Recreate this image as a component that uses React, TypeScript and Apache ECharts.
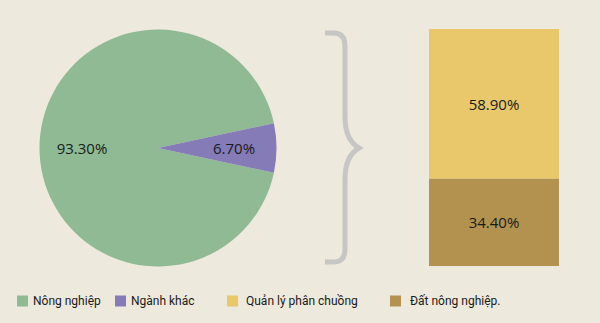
import React, { useEffect, useRef } from "react";
import * as echarts from "echarts";

// Share of emissions: agriculture vs. other sectors
const pieNames = ["Nông nghiệp", "Ngành khác"];
const pieValues = [93.3, 6.7];
const pieColors = ["#8fba93", "#847bb7"];

// Breakdown of the agriculture share
const barNames = ["Đất nông nghiệp.", "Quản lý phân chuồng"];
const barValues = [34.4, 58.9];
const barColors = ["#b3924f", "#e8c86a"];

const legendItems = ["Nông nghiệp", "Ngành khác", "Quản lý phân chuồng", "Đất nông nghiệp."];
const legendLeft = [17, 115, 227, 390];
const legendTextPad = [0, 0, 3, 4];

const fmt = (v: number) => v.toFixed(2) + "%";

// Curly brace between the pie and the stacked column
const braceD =
  "M325,33 L334,33 Q345,33 345,46 L345,117 Q345,140 359,148 Q345,156 345,179 L345,249 Q345,262 334,262 L325,262";

export default function App() {
  const ref = useRef<HTMLDivElement>(null);

  useEffect(() => {
    if (!ref.current) return;
    echarts.graphic.registerShape("brace", echarts.graphic.extendPath(braceD, {}));
    const chart = echarts.init(ref.current, null, { renderer: "svg" });

    const labelFont = {
      fontFamily: "Open Sans",
      fontSize: 15,
      color: "#1a1a1a",
    };

    const pieData = pieNames.map((n, i) => ({
      name: n,
      value: pieValues[i],
      itemStyle: { color: pieColors[i] },
    }));

    const total = barValues.reduce((a, b) => a + b, 0);

    chart.setOption({
      animation: false,
      backgroundColor: "#ede9dd",
      legend: legendItems.map((name, i) => ({
        data: [name],
        left: legendLeft[i],
        top: 295,
        padding: 0,
        icon: "rect",
        itemWidth: 11,
        itemHeight: 11,
        selectedMode: false,
        textStyle: {
          fontFamily: "Roboto",
          fontSize: 12,
          color: "#1a1a1a",
          padding: [0, 0, 0, legendTextPad[i]],
        },
      })),
      grid: { left: 429, top: 29, width: 130, height: 237 },
      xAxis: { type: "category", data: [""], show: false },
      yAxis: { type: "value", min: 0, max: total, show: false },
      series: [
        {
          type: "pie",
          center: [158, 148],
          radius: [0, 118.5],
          startAngle: -pieValues[1] * 1.8,
          clockwise: true,
          silent: true,
          label: { show: false },
          labelLine: { show: false },
          data: pieData,
        },
        {
          // wider transparent disc that only carries the slice labels
          type: "pie",
          center: [158, 148],
          radius: [0, 146],
          startAngle: -pieValues[1] * 1.8,
          clockwise: true,
          silent: true,
          itemStyle: { color: "rgba(0,0,0,0)" },
          label: {
            show: true,
            position: "inside",
            ...labelFont,
            formatter: (p: any) => fmt(p.value),
          },
          labelLine: { show: false },
          data: pieNames.map((n, i) => ({ name: n, value: pieValues[i] })),
        },
        ...barNames.map((n, i) => ({
          type: "bar",
          name: n,
          stack: "agri",
          barWidth: "100%",
          silent: true,
          itemStyle: { color: barColors[i] },
          label: {
            show: true,
            position: "inside",
            ...labelFont,
            formatter: (p: any) => fmt(p.value),
          },
          data: [barValues[i]],
        })),
      ],
      graphic: [
        {
          type: "brace",
          silent: true,
          style: {
            fill: "none",
            stroke: "#c6c6c4",
            lineWidth: 5,
          },
        },
      ],
    });

    return () => chart.dispose();
  }, []);

  return (
    <div
      ref={ref}
      style={{ position: "absolute", left: 0, top: 0, width: 600, height: 323 }}
    />
  );
}
